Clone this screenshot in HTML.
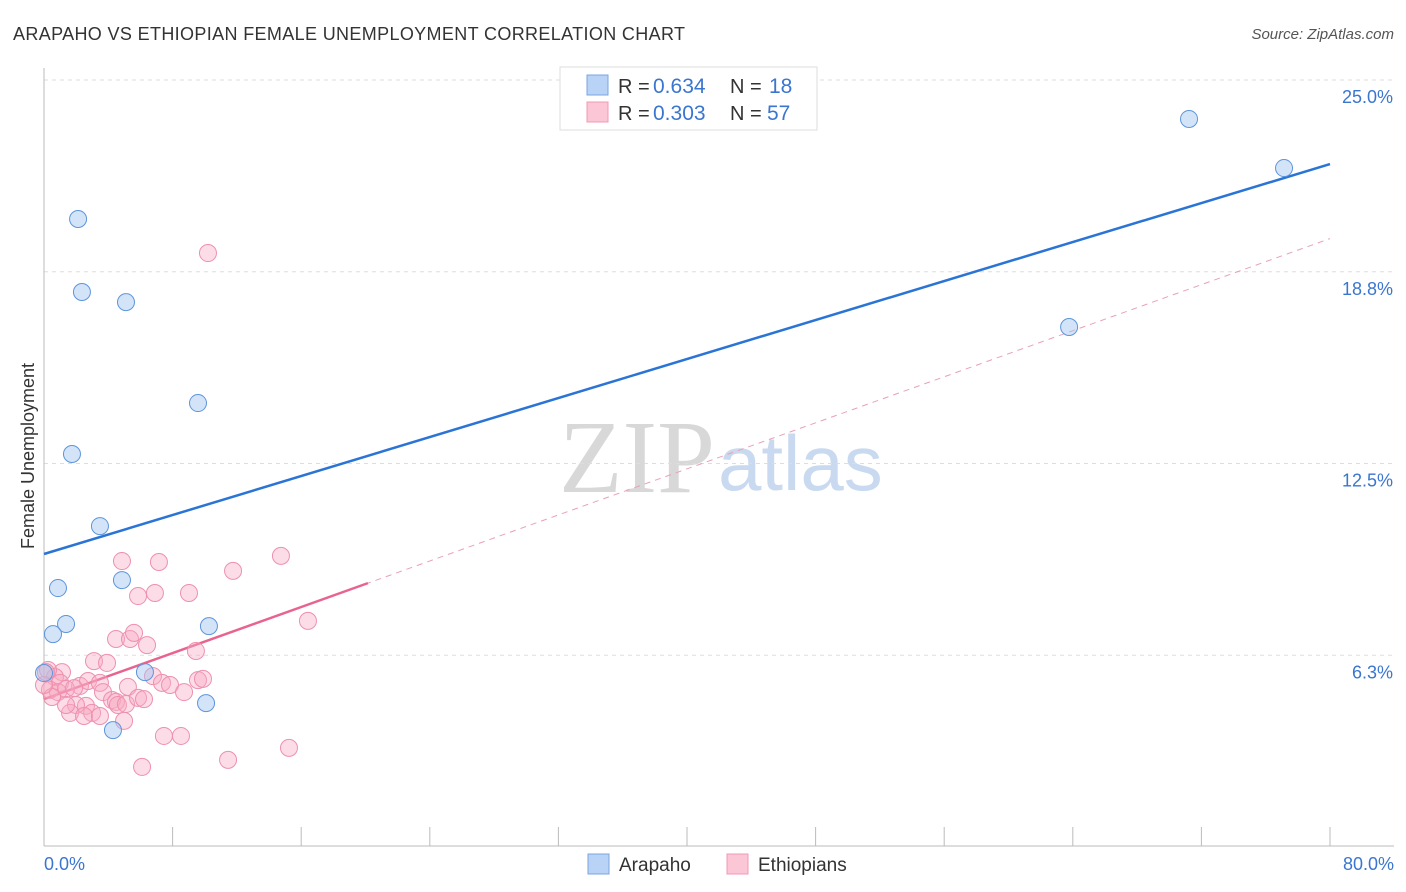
<!DOCTYPE html>
<html><head><meta charset="utf-8"><style>
body{margin:0;background:#fff;font-family:"Liberation Sans",sans-serif}
svg{display:block}
</style></head><body>
<svg id="chart" width="1406" height="892" viewBox="0 0 1406 892">
<text x="13" y="40" font-size="18" fill="#333" textLength="672">ARAPAHO VS ETHIOPIAN FEMALE UNEMPLOYMENT CORRELATION CHART</text>
<text x="1394" y="39" font-size="15" fill="#555" font-style="italic" text-anchor="end">Source: ZipAtlas.com</text>
<text x="715" y="492" font-size="104" fill="#d8d8d8" font-family="Liberation Serif,serif" text-anchor="end">ZIP</text>
<text x="718" y="490" font-size="78" fill="#c9daf0">atlas</text>
<g id="grid"></g><g id="axes"></g><g id="trend"></g><g id="pts"></g>
<text transform="translate(34,456) rotate(-90)" font-size="18" fill="#333" text-anchor="middle">Female Unemployment</text>
<text x="44" y="870" font-size="18" fill="#3a76d0">0.0%</text>
<text x="1394" y="870" font-size="18" fill="#3a76d0" text-anchor="end">80.0%</text>
<g>
<rect x="588" y="854" width="21" height="20" fill="#b8d3f5" stroke="#7aa6e0"/>
<text x="619" y="871" font-size="19" fill="#333">Arapaho</text>
<rect x="727" y="854" width="21" height="20" fill="#fbc6d6" stroke="#f09ab5"/>
<text x="758" y="871" font-size="19" fill="#333">Ethiopians</text>
</g>
<g>
<rect x="560" y="67" width="257" height="63" fill="#fff" stroke="#ddd"/>
<rect x="587" y="75" width="21" height="20" fill="#b8d3f5" stroke="#7aa6e0"/>
<text x="618" y="93" font-size="20" fill="#333">R =</text>
<text x="653" y="93" font-size="21" fill="#3a76d0">0.634</text>
<text x="730" y="93" font-size="20" fill="#333">N =</text>
<text x="769" y="93" font-size="21" fill="#3a76d0">18</text>
<rect x="587" y="102" width="21" height="20" fill="#fbc6d6" stroke="#f09ab5"/>
<text x="618" y="120" font-size="20" fill="#333">R =</text>
<text x="653" y="120" font-size="21" fill="#3a76d0">0.303</text>
<text x="730" y="120" font-size="20" fill="#333">N =</text>
<text x="767" y="120" font-size="21" fill="#3a76d0">57</text>
</g>
</svg>
<script>
const yTicks=[6.25,12.5,18.75,25];
const yTickLabels=["6.3%","12.5%","18.8%","25.0%"];
const xTicks=[0,8,16,24,32,40,48,56,64,72,80];
const arapahoX=[2.12,2.36,5.10,9.58,1.74,3.48,0.87,4.85,1.37,0.56,10.26,6.28,0,10.08,4.29,71.23,77.14,63.77];
const arapahoY=[20.47,18.09,17.76,14.47,12.81,10.46,8.44,8.70,7.27,6.94,7.20,5.70,5.67,4.69,3.81,23.73,22.13,16.95];
const ethX=[10.2,4.85,7.15,14.74,11.76,5.85,6.9,9.02,16.42,4.48,5.35,5.6,6.41,9.45,3.11,3.92,1.12,0.68,0.25,1.0,2.24,2.74,3.48,3.67,5.22,6.78,7.34,7.84,9.58,9.89,0.37,0.87,1.37,1.87,2.61,1.99,1.62,1.37,2.99,2.49,4.23,4.48,4.6,5.1,5.85,6.22,8.71,4.98,7.46,8.52,6.1,11.45,15.24,0.5,0,3.48,0.12];
const ethY=[19.36,9.32,9.29,9.49,9.0,8.18,8.28,8.28,7.37,6.78,6.78,6.98,6.58,6.39,6.06,6.0,5.7,5.54,5.77,5.35,5.25,5.41,5.35,5.05,5.22,5.57,5.35,5.28,5.44,5.48,5.12,5.05,5.15,5.18,4.6,4.63,4.37,4.63,4.37,4.27,4.79,4.73,4.63,4.66,4.86,4.82,5.05,4.11,3.62,3.62,2.61,2.84,3.23,4.89,5.28,4.27,5.7];
const arapahoTrend=[9.55,22.26];
const ethTrend=[4.82,19.83];
const ethSolidEnd=20.15;
const X=v=>44+v/80*1286, Y=v=>847-v*30.68;
const NS="http://www.w3.org/2000/svg";
function mk(t,a,p){const e=document.createElementNS(NS,t);for(const k in a)e.setAttribute(k,a[k]);document.getElementById(p).appendChild(e);return e;}
yTicks.forEach((t,i)=>{
 const l=mk('line',{x1:44,x2:1394,y1:Y(t),y2:Y(t),stroke:'#ddd','stroke-dasharray':'4,4'},'grid');
 
 
 const tx=mk('text',{x:1393,y:Y(t)+23,'font-size':18,fill:'#3a76d0','text-anchor':'end'},'grid');
 tx.textContent=yTickLabels[i];
 
 
});
const ax=mk('line',{x1:44,x2:44,y1:68,y2:846,stroke:'#bbb'},'axes');


const bx=mk('line',{x1:44,x2:1394,y1:846,y2:846,stroke:'#bbb'},'axes');


xTicks.forEach(t=>{
 const l=mk('line',{x1:X(t),x2:X(t),y1:827,y2:846,stroke:'#bbb'},'axes');
 
 
});
const slope=(ethTrend[1]-ethTrend[0])/80;
let t1=mk('line',{x1:X(0),y1:Y(ethTrend[0]),x2:X(80),y2:Y(ethTrend[1]),stroke:'#e8a0b8','stroke-dasharray':'6,5','stroke-width':1},'trend');


let t2=mk('line',{x1:X(0),y1:Y(ethTrend[0]),x2:X(ethSolidEnd),y2:Y(ethTrend[0]+slope*ethSolidEnd),stroke:'#e8648e','stroke-width':2.5},'trend');


let t3=mk('line',{x1:X(0),y1:Y(arapahoTrend[0]),x2:X(80),y2:Y(arapahoTrend[1]),stroke:'#2a74d6','stroke-width':2.5},'trend');


ethX.forEach((v,i)=>{
 const c=mk('circle',{cx:X(v),cy:Y(ethY[i]),r:8.5,fill:'rgba(248,170,195,0.4)',stroke:'#ee90ae','stroke-width':1},'pts');
 
 
});
arapahoX.forEach((v,i)=>{
 const c=mk('circle',{cx:X(v),cy:Y(arapahoY[i]),r:8.5,fill:'rgba(160,195,240,0.45)',stroke:'#5d95dc','stroke-width':1},'pts');
 
 
});
</script>
</body></html>
